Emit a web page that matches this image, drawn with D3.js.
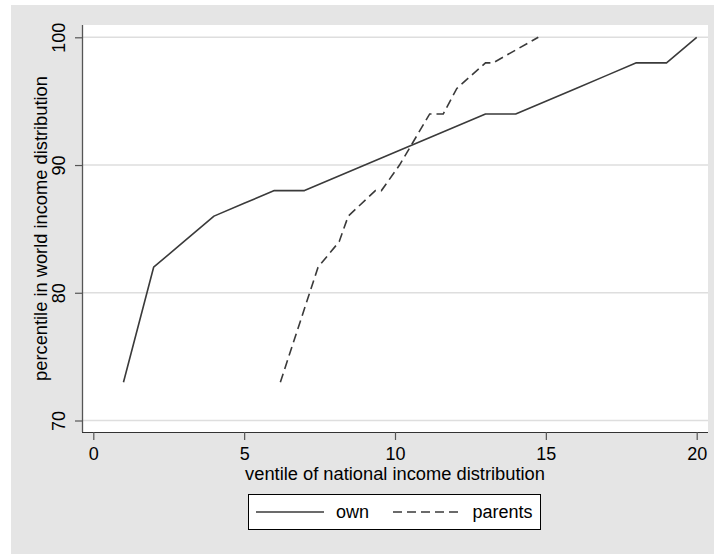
<!DOCTYPE html>
<html>
<head>
<meta charset="utf-8">
<script src="https://cdn.jsdelivr.net/npm/d3@7"></script>
<style>
  html, body { margin: 0; padding: 0; background: #ffffff; }
  svg { display: block; }
  text { font-family: "Liberation Sans", Arial, Helvetica, sans-serif; fill: #000; }
</style>
</head>
<body>
<svg id="chart" width="714" height="554"></svg>
<script>
// ---- data ----
const ownX = [1,2,3,4,5,6,7,8,9,10,11,12,13,14,15,16,17,18,19,20];
const ownY = [73,82,84,86,87,88,88,89,90,91,92,93,94,94,95,96,97,98,98,100];
const parentsX = [6.2,7.45,8.15,8.45,9.35,9.55,10.15,11.15,11.6,12.05,13.0,13.25,14.75];
const parentsY = [73,82,84,86,88,88,90,94,94,96,98,98,100];
const xTicks = [0,5,10,15,20];
const yTicks = [70,80,90,100];
const seriesNames = ["own","parents"];
const xTitle = "ventile of national income distribution";
const yTitle = "percentile in world income distribution";

// ---- layout ----
const W = 714, H = 554;
const plot = {left: 82, right: 708, top: 25, bottom: 432};
const lineColor = "#3a3a3a";
const fontSize = 18;
const titleSize = 18.3;

const svg = d3.select("#chart");

// backgrounds
svg.append("rect").attr("x",0).attr("y",0).attr("width",W).attr("height",H).attr("fill","#ffffff");
svg.append("rect").attr("x",11).attr("y",5).attr("width",W-11).attr("height",H-5).attr("fill","#e5e5e5");
svg.append("rect").attr("x",plot.left).attr("y",plot.top)
   .attr("width",plot.right-plot.left).attr("height",plot.bottom-plot.top).attr("fill","#ffffff");

const x = d3.scaleLinear().domain([0,20]).range([93.3,696.7]);
const y = d3.scaleLinear().domain([70,100]).range([420.5,37.3]);

// gridlines
svg.append("g").selectAll("line").data(yTicks).join("line")
  .attr("x1",plot.left).attr("x2",plot.right)
  .attr("y1",d=>y(d)).attr("y2",d=>y(d))
  .attr("stroke","#dedede").attr("stroke-width",1.4);

// y axis
const yAxis = svg.append("g").attr("transform",`translate(${plot.left},0)`)
  .call(d3.axisLeft(y).tickValues(yTicks).tickSize(7).tickSizeOuter(0).tickFormat(d3.format("d")));
yAxis.select(".domain").attr("d",`M0.5,${plot.top}V${plot.bottom}`).attr("stroke","#555").attr("stroke-width",1.3);
yAxis.selectAll(".tick line").attr("stroke","#555").attr("stroke-width",1.2);
yAxis.selectAll(".tick text")
  .attr("transform","rotate(-90)")
  .attr("x",0).attr("y",-17).attr("dy",0)
  .attr("text-anchor","middle")
  .style("font-size",fontSize+"px").style("font-family",'"Liberation Sans", Arial, sans-serif').attr("fill","#000");

// x axis
const xAxis = svg.append("g").attr("transform",`translate(0,${plot.bottom})`)
  .call(d3.axisBottom(x).tickValues(xTicks).tickSize(8).tickSizeOuter(0).tickFormat(d3.format("d")));
xAxis.select(".domain").attr("d",`M${plot.left},0.5H${plot.right}`).attr("stroke","#333").attr("stroke-width",1.2);
xAxis.selectAll(".tick line").attr("stroke","#555").attr("stroke-width",1.2);
xAxis.selectAll(".tick text")
  .attr("y",28).attr("dy",0)
  .style("font-size",fontSize+"px").style("font-family",'"Liberation Sans", Arial, sans-serif').attr("fill","#000");

// axis titles
svg.append("text").attr("x",(plot.left+plot.right)/2).attr("y",480)
  .attr("text-anchor","middle").style("font-size",titleSize+"px").text(xTitle);
svg.append("text").attr("transform",`translate(47,${(plot.top+plot.bottom)/2}) rotate(-90)`)
  .attr("text-anchor","middle").style("font-size",titleSize+"px").text(yTitle);

// lines
const lineGen = d3.line().x(d=>x(d[0])).y(d=>y(d[1]));
const ownData = ownX.map((v,i)=>[v,ownY[i]]);
const parData = parentsX.map((v,i)=>[v,parentsY[i]]);
svg.append("path").datum(ownData).attr("d",lineGen)
  .attr("fill","none").attr("stroke",lineColor).attr("stroke-width",1.6).attr("stroke-linejoin","round");
svg.append("path").datum(parData).attr("d",lineGen)
  .attr("fill","none").attr("stroke",lineColor).attr("stroke-width",1.6).attr("stroke-dasharray","9,5");

// legend
const lg = svg.append("g");
const lgTop = 494.5, lgH = 35;
lg.append("rect").attr("x",248.5).attr("y",lgTop).attr("width",292).attr("height",lgH)
  .attr("fill","#fff").attr("stroke","#000").attr("stroke-width",1);
const ly = lgTop + lgH/2;
lg.append("line").attr("x1",256).attr("x2",324).attr("y1",ly).attr("y2",ly)
  .attr("stroke",lineColor).attr("stroke-width",1.6);
lg.append("text").attr("x",336).attr("y",ly+6).style("font-size",fontSize+"px").text(seriesNames[0]);
lg.append("line").attr("x1",393).attr("x2",463).attr("y1",ly).attr("y2",ly)
  .attr("stroke",lineColor).attr("stroke-width",1.6).attr("stroke-dasharray","9,5");
lg.append("text").attr("x",472.5).attr("y",ly+6).style("font-size",fontSize+"px").text(seriesNames[1]);
</script>
</body>
</html>
